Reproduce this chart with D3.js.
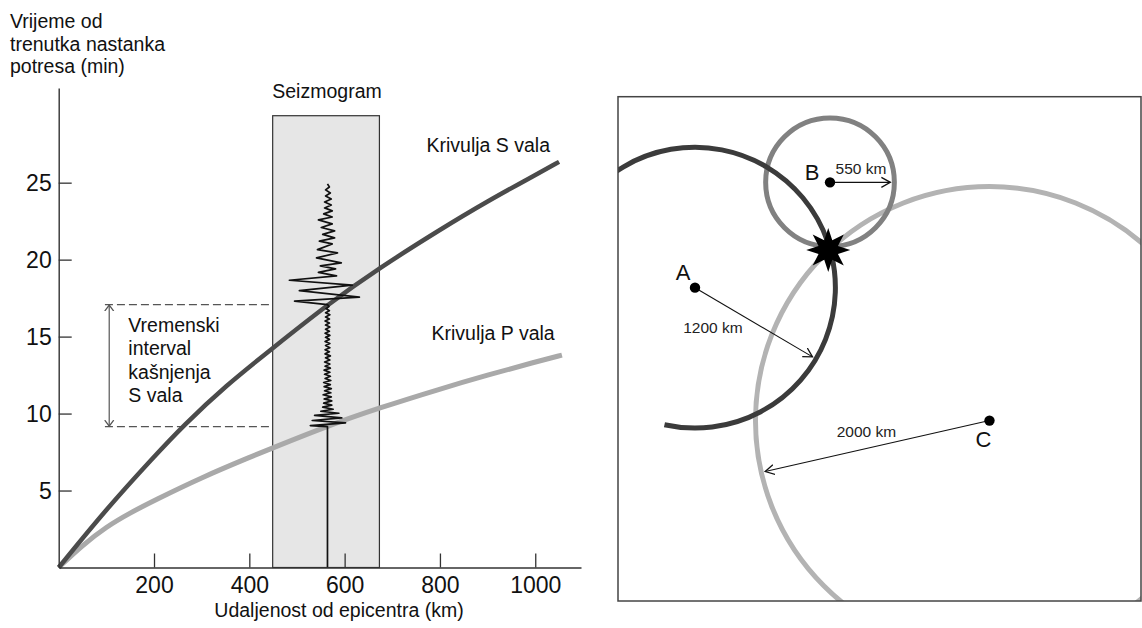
<!DOCTYPE html>
<html><head><meta charset="utf-8">
<script src="https://cdn.jsdelivr.net/npm/d3@7"></script>
<style>
body{margin:0;background:#fff}
svg{display:block}
text{font-family:"Liberation Sans",Arial,Helvetica,sans-serif}
</style>
</head><body>
<svg id="c" width="1142" height="628"></svg>
<script>
// ---------------- DATA ----------------
// travel-time curves (distance km, time min)
const sCurveDist = [0, 100, 200, 261, 350, 449, 564, 673, 800, 900, 1000, 1050];
const sCurveTime = [0, 3.8, 7.2, 9.2, 11.8, 14.25, 17.08, 19.46, 21.95, 23.8, 25.5, 26.35];
const pCurveDist = [0, 50, 100, 150, 200, 300, 400, 449, 564, 673, 800, 900, 1000, 1056];
const pCurveTime = [0, 1.45, 2.65, 3.55, 4.35, 5.85, 7.15, 7.77, 9.2, 10.37, 11.6, 12.5, 13.35, 13.8];

const xTicks = [200, 400, 600, 800, 1000];
const yTicks = [5, 10, 15, 20, 25];

// seismogram window (km range, top time) and station distance
const seismoWindowDist = [449, 673];
const seismoWindowTop = 29.35;
const seismoDist = 564;
const pArrival = 9.15;
const sArrival = 17.08;
const intervalDist = 106;     // position of the double arrow (km)
const intervalDashStart = 97; // where dashed guide lines start (km)

// seismogram trace: time (min) and lateral offset (km)
const traceTime = [0, 9.15, 9.22, 9.40, 9.55, 9.72, 9.88, 10.02, 10.15, 10.28, 10.42, 10.55,
  10.68, 10.82, 10.95, 11.08, 11.22, 11.35, 11.48, 11.62, 11.75, 11.88, 12.02, 12.15, 12.28, 12.42,
  12.55, 12.68, 12.82, 12.95, 13.08, 13.22, 13.35, 13.48, 13.62, 13.75, 13.88, 14.02, 14.15, 14.28,
  14.42, 14.55, 14.68, 14.82, 14.95, 15.08, 15.22, 15.35, 15.48, 15.62, 15.75, 15.88, 16.02, 16.15,
  16.28, 16.42, 16.55, 16.68, 16.82, 16.95, 17.08,
  17.30, 17.56, 17.99, 18.34, 18.66, 18.94, 19.17, 19.40, 19.59, 19.79, 20.11, 20.44, 20.65, 21.02,
  21.20, 21.41, 21.64, 21.87, 22.09, 22.32, 22.58, 22.77, 22.97, 23.17, 23.36, 23.55, 23.75, 23.94,
  24.14, 24.33, 24.53, 24.72, 24.92];
const traceOffset = [0, 0, -36, 38, -32, 30, -27, 24, -14, 12, -10, 9,
  -8, 9, -7, 8, -9, 7, -6, 8, -7, 6, -8, 7, -5, 6,
  -6, 5, -7, 6, -5, 5, -6, 5, -4, 6, -5, 4, -5, 5,
  -4, 5, -5, 4, -4, 5, -5, 4, -4, 5, -4, 4, -5, 4,
  -4, 5, -4, 4, -3, 3, 0,
  -69, 67, -59, 52, -80, 19, -19, 17, -15, 29, -23, 21, -21, 10,
  -17, 15, -10, 15, -13, 10, -19, 10, -8, 10, -6, 8, -6, 8,
  -4, 6, -4, 4, 0];

// map: stations (map coordinates in km from top-left of the map frame) and distances
const stationNames = ["A", "B", "C"];
const stationX = [658, 1812, 3175];
const stationY = [1632, 732, 2768];
const stationDist = [1200, 550, 2000];
const epicenterX = 1797, epicenterY = 1310;
const mapExtentKm = [4470, 4310];

// ---------------- DRAWING ----------------
const svg = d3.select("#c");
const defs = svg.append("defs");

function chevron(id, color, len, half) {
  defs.append("marker").attr("id", id)
    .attr("viewBox", `${-len} ${-half - 1} ${len + 2} ${2 * half + 2}`)
    .attr("refX", 0).attr("refY", 0)
    .attr("markerWidth", len + 2).attr("markerHeight", 2 * half + 2)
    .attr("markerUnits", "userSpaceOnUse")
    .attr("orient", "auto-start-reverse")
    .append("path").attr("d", `M${-len},${-half}L0,0L${-len},${half}`)
    .attr("fill", "none").attr("stroke", color).attr("stroke-width", 1.3);
}
chevron("arrGray", "#555", 6, 4.5);
chevron("arrBlack", "#111", 9, 5);

// ---- left chart ----
const x = d3.scaleLinear().domain([0, 1096]).range([58.7, 581]);
const y = d3.scaleLinear().domain([0, 31.15]).range([567.5, 88]);
const left = svg.append("g");

// seismogram window
left.append("rect")
  .attr("x", x(seismoWindowDist[0])).attr("y", y(seismoWindowTop))
  .attr("width", x(seismoWindowDist[1]) - x(seismoWindowDist[0]))
  .attr("height", y(0) - y(seismoWindowTop))
  .attr("fill", "#e6e6e6").attr("stroke", "#333").attr("stroke-width", 1.2);

// dashed guides
[sArrival, pArrival].forEach(t => {
  left.append("line")
    .attr("x1", x(intervalDashStart)).attr("x2", x(seismoWindowDist[0]))
    .attr("y1", y(t)).attr("y2", y(t))
    .attr("stroke", "#555").attr("stroke-width", 1.2).attr("stroke-dasharray", "8,4");
});
// double arrow
left.append("line")
  .attr("x1", x(intervalDist)).attr("x2", x(intervalDist))
  .attr("y1", y(sArrival) + 0.5).attr("y2", y(pArrival) - 0.5)
  .attr("stroke", "#555").attr("stroke-width", 1.2)
  .attr("marker-start", "url(#arrGray)").attr("marker-end", "url(#arrGray)");

// curves
const curveLine = d3.line().x(d => x(d[0])).y(d => y(d[1])).curve(d3.curveBasis);
left.append("path").datum(pCurveDist.map((d, i) => [d, pCurveTime[i]]))
  .attr("d", curveLine).attr("fill", "none").attr("stroke", "#a9a9a9").attr("stroke-width", 5);
left.append("path").datum(sCurveDist.map((d, i) => [d, sCurveTime[i]]))
  .attr("d", curveLine).attr("fill", "none").attr("stroke", "#4b4b4b").attr("stroke-width", 4.5);

// seismogram trace
const traceLine = d3.line().x(d => x(seismoDist + d[1])).y(d => y(d[0]));
left.append("path").datum(traceTime.map((t, i) => [t, traceOffset[i]]))
  .attr("d", traceLine).attr("fill", "none").attr("stroke", "#111")
  .attr("stroke-width", 1.7).attr("stroke-linejoin", "round");

// axes
const xAxis = left.append("g").attr("transform", `translate(0,${y(0)})`)
  .call(d3.axisBottom(x).tickValues(xTicks).tickFormat(d3.format("d"))
    .tickSizeInner(-14).tickSizeOuter(0).tickPadding(8.7));
const yAxis = left.append("g").attr("transform", `translate(${x(0)},0)`)
  .call(d3.axisLeft(y).tickValues(yTicks).tickFormat(d3.format("d"))
    .tickSizeInner(-13).tickSizeOuter(0).tickPadding(7));
[xAxis, yAxis].forEach(a => {
  a.select(".domain").attr("stroke", "#333").attr("stroke-width", 1.4);
  a.selectAll(".tick line").attr("stroke", "#333").attr("stroke-width", 1.3);
  a.selectAll(".tick text").attr("fill", "#111").style("font-size", "23px")
    .style("font-family", '"Liberation Sans",Arial,sans-serif');
});
yAxis.selectAll(".tick text").attr("dy", "0.36em");

// texts
const txt = (g, s, tx, ty, size, anchor) => g.append("text").text(s)
  .attr("x", tx).attr("y", ty).attr("font-size", size).attr("fill", "#111")
  .attr("text-anchor", anchor || "start");
["Vrijeme od", "trenutka nastanka", "potresa (min)"].forEach((s, i) =>
  txt(left, s, 10, 28.3 + i * 22.3, "19.5px"));
txt(left, "Seizmogram", 327, 98.3, "19.5px", "middle");
txt(left, "Krivulja S vala", 426.5, 152, "19.5px");
txt(left, "Krivulja P vala", 431.5, 339.5, "19.5px");
["Vremenski", "interval", "kašnjenja", "S vala"].forEach((s, i) =>
  txt(left, s, 128.3, 332 + i * 23.3, "19.5px"));
txt(left, "Udaljenost od epicentra (km)", 339, 617, "19.5px", "middle");

// ---- right map ----
const mx = d3.scaleLinear().domain([0, mapExtentKm[0]]).range([618, 1141]);
const my = d3.scaleLinear().domain([0, mapExtentKm[1]]).range([96.7, 601]);
const kmToPx = km => mx(km) - mx(0);
const right = svg.append("g");
defs.append("clipPath").attr("id", "mapClip").append("rect")
  .attr("x", mx(0)).attr("y", my(0))
  .attr("width", mx(mapExtentKm[0]) - mx(0)).attr("height", my(mapExtentKm[1]) - my(0));

const circleColors = ["#3b3b3b", "#818181", "#b3b3b3"];
// arc extents (radians, screen orientation) – full circles except station A
const arcFrom = [-2.45, 0, 0], arcTo = [1.79, 2 * Math.PI, 2 * Math.PI];
const drawOrder = [2, 1, 0];
const circles = right.append("g").attr("clip-path", "url(#mapClip)");
drawOrder.forEach(i => {
  const p = d3.path();
  const cx = mx(stationX[i]), cy = my(stationY[i]), r = kmToPx(stationDist[i]);
  p.moveTo(cx + r * Math.cos(arcFrom[i]), cy + r * Math.sin(arcFrom[i]));
  p.arc(cx, cy, r, arcFrom[i], arcTo[i]);
  circles.append("path").attr("d", p.toString()).attr("fill", "none")
    .attr("stroke", circleColors[i]).attr("stroke-width", 5);
});

// frame
right.append("rect")
  .attr("x", mx(0)).attr("y", my(0))
  .attr("width", mx(mapExtentKm[0]) - mx(0)).attr("height", my(mapExtentKm[1]) - my(0))
  .attr("fill", "none").attr("stroke", "#444").attr("stroke-width", 1.5);

// epicenter star (8 points)
const starPts = d3.range(16).map(k => [k * Math.PI / 8, k % 2 === 0 ? 22 : 10.5]);
right.append("path")
  .attr("d", d3.lineRadial().curve(d3.curveLinearClosed)(starPts))
  .attr("transform", `translate(${mx(epicenterX)},${my(epicenterY)})`)
  .attr("fill", "#000");

// radius arrows
const arrowAngle = [30.5, 0, 167.2].map(a => a * Math.PI / 180);
stationNames.forEach((n, i) => {
  const cx = mx(stationX[i]), cy = my(stationY[i]), r = kmToPx(stationDist[i]) - 4;
  right.append("line").attr("x1", cx).attr("y1", cy)
    .attr("x2", cx + r * Math.cos(arrowAngle[i])).attr("y2", cy + r * Math.sin(arrowAngle[i]))
    .attr("stroke", "#111").attr("stroke-width", 1.1).attr("marker-end", "url(#arrBlack)");
});
// station dots
stationNames.forEach((n, i) => {
  right.append("circle").attr("cx", mx(stationX[i])).attr("cy", my(stationY[i]))
    .attr("r", 5.2).attr("fill", "#000");
});
// labels
const letterOff = [[-12, -8], [-18, -2], [-6, 26]];
const kmOff = [[18, 45], [31, -8], [-123, 16]];
stationNames.forEach((n, i) => {
  const cx = mx(stationX[i]), cy = my(stationY[i]);
  txt(right, n, cx + letterOff[i][0], cy + letterOff[i][1], "22px", "middle");
  txt(right, stationDist[i] + " km", cx + kmOff[i][0], cy + kmOff[i][1], "15.5px", "middle")
    .attr("fill", "#222");
});
</script>
</body></html>
